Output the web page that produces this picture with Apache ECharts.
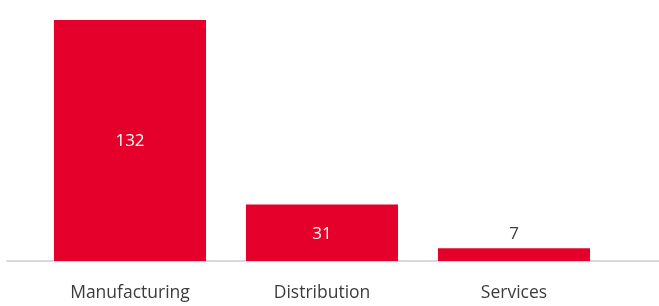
<!DOCTYPE html>
<html><head><meta charset="utf-8">
<script src="https://cdn.jsdelivr.net/npm/echarts@6/dist/echarts.min.js"></script>
<style>html,body{margin:0;padding:0;background:#fff}#c{width:659px;height:306px}</style>
</head><body><div id="c"></div>
<script>
const categories = ["Manufacturing", "Distribution", "Services"];
const values = [132, 31, 7];
const insideLabel = [true, true, false];

const RED = "#e4002b";
const FONT = "Open Sans";
const chart = echarts.init(document.getElementById('c'), null, {renderer: 'canvas'});
chart.setOption({
  animation: false,
  grid: [
    {left: 34, right: 49, top: 20, bottom: 45},
    {left: 7, right: 0, top: 20, bottom: 45}
  ],
  xAxis: [
    {type: 'category', data: categories, gridIndex: 0,
     axisLine: {show: false}, axisTick: {show: false},
     axisLabel: {color: '#3c3c3c', fontSize: 17.5, fontFamily: FONT, margin: 23}},
    {type: 'category', data: [''], gridIndex: 1,
     axisLine: {show: true, lineStyle: {color: '#d9d9d9', width: 2}},
     axisTick: {show: false}, axisLabel: {show: false}}
  ],
  yAxis: [
    {type: 'value', min: 0, max: 132, gridIndex: 0, show: false},
    {type: 'value', gridIndex: 1, show: false}
  ],
  series: [{
    type: 'bar', xAxisIndex: 0, yAxisIndex: 0,
    barCategoryGap: '20.8%',
    itemStyle: {color: RED},
    data: values.map((v, i) => ({
      value: v,
      label: insideLabel[i]
        ? {show: true, position: 'inside', color: '#fff', fontSize: 17, fontFamily: FONT, offset: [0, 1]}
        : {show: true, position: 'top', color: '#3c3c3c', fontSize: 17, fontFamily: FONT, distance: 6}
    }))
  }]
});
</script></body></html>
